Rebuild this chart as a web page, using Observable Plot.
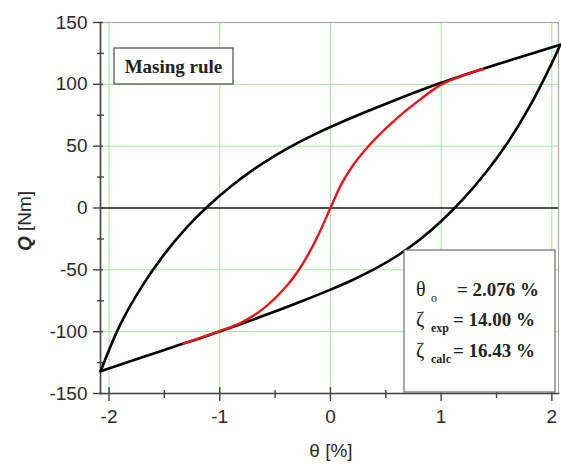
<!DOCTYPE html>
<html><head><meta charset="utf-8">
<script src="https://cdn.jsdelivr.net/npm/d3@7"></script>
<script src="https://cdn.jsdelivr.net/npm/@observablehq/plot@0.6"></script>
<style>body{margin:0;background:#fff}</style>
</head><body><div id="chart"></div>
<script>
// Data
const upperTheta = [-2.076, -1.9,  -1.7, -1.5,  -1.3,  -1.1, -0.9, -0.7, -0.5, -0.3, -0.1, 0,    0.3, 0.6,  1.0,   1.5, 2.076];
const upperQ     = [-132,   -94.5, -63,  -37.3, -15.9, 2.0,  17.4, 30.8, 42.4, 52.5, 61.4, 65.5, 77,  87.8, 101.2, 116, 132];
const lowerTheta = [-2.076, -1.5,   -1.0,  -0.6, -0.3,  0,   0.2,   0.4,   0.6,   0.8,   1.0,   1.2, 1.4,  1.6,  1.8,  2.0,   2.076];
const lowerQ     = [-132,   -114.8, -99.8, -87,  -76.8, -66, -58.2, -49.3, -38.8, -26.1, -10.7, 7.4, 28.3, 52.8, 82.1, 117.1, 132];
const skeletonTheta = [-1.33,  -1.0,  -0.8,  -0.6, -0.4,  -0.3, -0.2,  -0.1, 0, 0.1,  0.2, 0.3,  0.4,  0.6,  0.8, 1.0,  1.2,   1.38];
const skeletonQ     = [-109.6, -99.6, -92.5, -81,  -63.5, -52,  -37.5, -20,  0, 19.5, 34,  45.5, 55.5, 72.5, 87,  99.8, 107.3, 112.4];

const xMajorTicks = [-2, -1, 0, 1, 2];
const xMinorTicks = [-1.5, -0.5, 0.5, 1.5];
const yMajorTicks = [-150, -100, -50, 0, 50, 100, 150];
const yMinorTicks = [-125, -75, -25, 25, 75, 125];
const yGrid = [-150, -100, -50, 50, 100, 150];

const legendTitle = "Masing rule";
const statSymbols = ["θ", "ζ", "ζ"];
const statSubs = ["o", "exp", "calc"];
const statValues = ["= 2.076 %", "= 14.00 %", "= 16.43 %"];

const rows = (xs, ys) => xs.map((t, i) => ({theta: t, Q: ys[i]}));
const upper = rows(upperTheta, upperQ);
const lower = rows(lowerTheta, lowerQ);
const skeleton = rows(skeletonTheta, skeletonQ);

const green = "#a0e8a0";
const axisColor = "#444";
const fmt = d => String(d);

const svg = Plot.plot({
  width: 561, height: 464,
  marginLeft: 100, marginRight: 3, marginTop: 22, marginBottom: 71,
  x: {domain: [-2.077, 2.06]},
  y: {domain: [-150, 150]},
  style: {fontFamily: "Arial, 'Liberation Sans', sans-serif", fontSize: "19px", color: "#2a2a2a", background: "#fff", overflow: "visible"},
  marks: [
    Plot.ruleX(xMajorTicks, {stroke: green, strokeWidth: 1}),
    Plot.ruleY(yGrid, {stroke: green, strokeWidth: 1}),
    Plot.frame({stroke: "#aaa", strokeWidth: 1.2}),
    Plot.ruleY([0], {stroke: "#1a1a1a", strokeWidth: 1.6}),
    Plot.frame({anchor: "left", stroke: axisColor, strokeWidth: 1.6}),
    Plot.frame({anchor: "bottom", stroke: axisColor, strokeWidth: 1.6}),
    Plot.axisY({ticks: yMajorTicks, tickFormat: fmt, tickSize: 10, dx: 3, tickPadding: 6, label: null, stroke: axisColor, strokeWidth: 1.4, fill: "#2a2a2a"}),
    Plot.axisY({ticks: yMinorTicks, tickSize: 7, dx: 4, tickFormat: () => "", label: null, stroke: axisColor, strokeWidth: 1.4}),
    Plot.axisX({ticks: xMajorTicks, tickFormat: fmt, tickSize: 14, dy: -6, tickPadding: 8, label: null, stroke: axisColor, strokeWidth: 1.4, fill: "#2a2a2a"}),
    Plot.axisX({ticks: xMinorTicks, tickSize: 8, dy: -3, tickFormat: () => "", label: null, stroke: axisColor, strokeWidth: 1.4}),
    Plot.line(upper, {x: "theta", y: "Q", stroke: "#000", strokeWidth: 2.6, curve: "catmull-rom", clip: false}),
    Plot.line(lower, {x: "theta", y: "Q", stroke: "#000", strokeWidth: 2.6, curve: "catmull-rom", clip: false}),
    Plot.line(skeleton, {x: "theta", y: "Q", stroke: "#e8161c", strokeWidth: 2.4, curve: "catmull-rom"})
  ]
});
document.getElementById("chart").appendChild(svg);

const s = d3.select(svg);
const sans = "Arial, 'Liberation Sans', sans-serif";
const serif = "'Liberation Serif', 'Times New Roman', serif";
// Axis titles
const yl = s.append("text")
  .attr("transform", "translate(31,221) rotate(-90)")
  .attr("text-anchor", "middle")
  .attr("font-family", sans).attr("font-size", 19).attr("fill", "#2a2a2a");
yl.append("tspan").attr("font-weight", "bold").attr("font-style", "italic").text("Q");
yl.append("tspan").text(" [Nm]");
s.append("text").attr("x", 331).attr("y", 457).attr("text-anchor", "middle")
  .attr("font-family", sans).attr("font-size", 19).attr("fill", "#2a2a2a").text("θ [%]");

// "Masing rule" box
s.append("rect").attr("x", 114).attr("y", 48).attr("width", 119).attr("height", 36)
  .attr("fill", "#fff").attr("stroke", "#555").attr("stroke-width", 1.3);
s.append("text").attr("x", 173.5).attr("y", 73).attr("text-anchor", "middle")
  .attr("font-family", serif).attr("font-weight", "bold").attr("font-size", 19)
  .attr("fill", "#222").text(legendTitle);

// Statistics box
s.append("rect").attr("x", 404).attr("y", 250).attr("width", 151).attr("height", 142)
  .attr("fill", "#fff").attr("stroke", "#777").attr("stroke-width", 1.3);
const baseY = [296, 326, 357];
const valX = [457, 453, 453];
statSymbols.forEach((sym, i) => {
  s.append("text").attr("x", 416).attr("y", baseY[i]).attr("text-anchor", "start")
    .attr("font-family", serif).attr("font-size", 20).attr("fill", "#222").text(sym);
  s.append("text").attr("x", 431).attr("y", baseY[i] + 6).attr("text-anchor", "start")
    .attr("font-family", serif).attr("font-weight", i === 0 ? "normal" : "bold").attr("font-size", 12)
    .attr("fill", "#222").text(statSubs[i]);
  s.append("text").attr("x", valX[i]).attr("y", baseY[i]).attr("text-anchor", "start")
    .attr("font-family", serif).attr("font-weight", "bold").attr("font-size", 19)
    .attr("fill", "#222").text(statValues[i]);
});
</script>
</body></html>
